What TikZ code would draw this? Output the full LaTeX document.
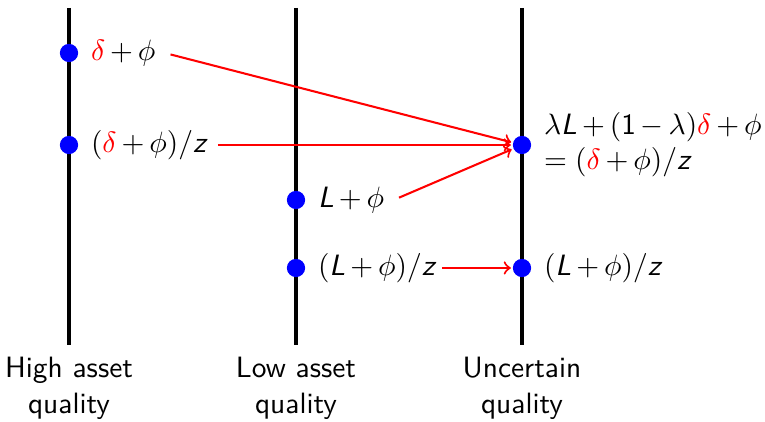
\documentclass[tikz,border=0pt]{standalone}
\usetikzlibrary{arrows,positioning}
\renewcommand{\familydefault}{\sfdefault}
\DeclareMathAlphabet{\mathsfit}{OT1}{cmss}{m}{sl}
\newcommand{\vL}{\mathsfit{L}}
\newcommand{\vz}{\mathsfit{z}}
\newcommand{\rd}{\textcolor{DeltaClr}{\delta}}
\definecolor{DotClr}{rgb}{0,0,1}
\definecolor{DeltaClr}{rgb}{1,0,0}
\definecolor{FlowClr}{rgb}{1,0,0}

\begin{document}
\begin{tikzpicture}[x=0.34pt,y=0.34pt]
\medmuskip=3mu
\tikzset{
  axisline/.style={line width=1.4pt,black},
  dot/.style={circle,fill=DotClr,inner sep=0pt,minimum size=6.2pt},
  val/.style={inner sep=3pt},
  qualcap/.style={align=center,inner sep=2pt},
  flow/.style={->,line width=0.7pt,color=FlowClr,shorten >=0.5pt}
}
\useasboundingbox (0,0) rectangle (765,422);

% the three quality lines
\coordinate (hTop) at (69,414);  \coordinate (hBot) at (69,77);
\coordinate (lTop) at (296,414); \coordinate (lBot) at (296,77);
\coordinate (uTop) at (522,414); \coordinate (uBot) at (522,77);
\draw[axisline] (hTop) -- (hBot);
\draw[axisline] (lTop) -- (lBot);
\draw[axisline] (uTop) -- (uBot);

% points
\node[dot] (hHi)  at (69,369) {};
\node[dot] (hHiz) at (69,277) {};
\node[dot] (lLo)  at (296,222) {};
\node[dot] (lLoz) at (296,154) {};
\node[dot] (uMix) at (522,277) {};
\node[dot] (uLoz) at (522,154) {};

% values
\node[val,right=1pt of hHi]  (tHi)  {$\rd+\phi$};
\node[val,right=1pt of hHiz] (tHiz) {$(\rd+\phi)/\vz$};
\node[val,right=1pt of lLo]  (tLo)  {$\vL+\phi$};
\node[val,right=1pt of lLoz] (tLoz) {$(\vL+\phi)/\vz$};
\node[val,right=1pt of uMix,align=left] (tMix)
  {$\lambda\vL+(\mathsf{1}-\lambda)\rd+\phi$\\$=(\rd+\phi)/\vz$};
\node[val,right=1pt of uLoz] (tUz) {$(\vL+\phi)/\vz$};

% captions
\node[qualcap,below=2pt of hBot] (cHigh) {High asset\\quality};
\node[qualcap,below=2pt of lBot] (cLow)  {Low asset\\quality};
\node[qualcap,below=2pt of uBot] (cUnc)  {Uncertain\\quality};

% pooling arrows
\draw[flow,shorten <=2pt] (tHi.east)  -- (uMix);
\draw[flow] (tHiz.east) -- (uMix);
\draw[flow,shorten <=2pt] (tLo.east)  -- (uMix);
\draw[flow,shorten <=-1.5pt] (tLoz.east) -- (uLoz);

\end{tikzpicture}
\end{document}
